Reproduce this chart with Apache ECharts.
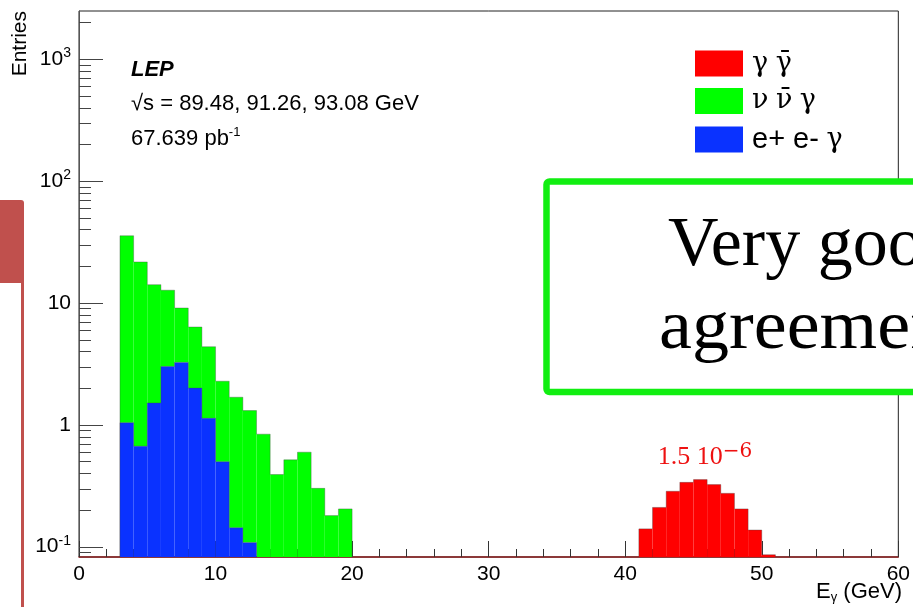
<!DOCTYPE html>
<html>
<head>
<meta charset="utf-8">
<script src="https://cdn.jsdelivr.net/npm/echarts@6/dist/echarts.min.js"></script>
<style>
  html, body { margin: 0; padding: 0; background: #ffffff; }
  #chart { width: 913px; height: 607px; }
</style>
</head>
<body>
<div id="chart"></div>
<script>
// Photon energy spectrum at LEP, 1 GeV bins, stacked by process (log scale)
const binWidth = 1;

// e+ e- -> e+ e- gamma (bottom of the stack)
const eeGammaLow = [3, 4, 5, 6, 7, 8, 9, 10, 11, 12];
const eeGammaCounts = [1.04, 0.667, 1.51, 3.01, 3.25, 2.0, 1.13, 0.497, 0.143, 0.108];

// e+ e- -> nu nubar gamma (stacked on top of e+ e- gamma)
const nunuGammaLow = [3, 4, 5, 6, 7, 8, 9, 10, 11, 12, 13, 14, 15, 16, 17, 18, 19];
const nunuGammaCounts = [34.5, 21.0, 12.6, 9.7, 5.83, 4.34, 3.24, 1.78, 1.54, 1.20,
                         0.838, 0.391, 0.516, 0.596, 0.301, 0.180, 0.204];

// e+ e- -> gamma gammabar (scaled by 1.5e-6)
const gammaGammaLow = [41, 42, 43, 44, 45, 46, 47, 48, 49, 50];
const gammaGammaCounts = [0.140, 0.210, 0.285, 0.337, 0.355, 0.323, 0.274, 0.204, 0.137, 0.0859];

// Axis ranges and labelled decades
const xMin = 0, xMax = 60, xStep = 10;
const yMin = 0.0823, yMax = 2480;
const yDecades = [0.1, 1, 10, 100, 1000];

const seriesNames = ['γ γ\u0304', 'ν ν\u0304 γ', 'e+ e- γ'];
const legendRich = {
  'γ γ\u0304': '{g|γ} {g|γ\u0304}',
  'ν ν\u0304 γ': '{g|ν} {g|ν\u0304} {g|γ}',
  'e+ e- γ': '{t|e+ e-} {g|γ}'
};
const seriesColors = ['#ff0000', '#00ff00', '#0a32ff'];

const FONT = '"Liberation Sans", Arial, Helvetica, sans-serif';
const SERIF = '"Liberation Serif", "Times New Roman", serif';
const GREEK = '"DejaVu Serif", "Liberation Serif", serif';

// Build step-histogram rows: [lo, hi, base, top, prevTop, isLast]
function buildLayer(lows, counts, baseLows, baseCounts) {
  const rows = [];
  let prevTop = null;
  lows.forEach((lo, i) => {
    const j = baseLows ? baseLows.indexOf(lo) : -1;
    const under = j >= 0 ? baseCounts[j] : 0;
    const base = under > 0 ? under : yMin;
    const top = under + counts[i];
    rows.push([lo, lo + binWidth, base, top, prevTop === null ? yMin : prevTop, i === lows.length - 1 ? 1 : 0]);
    prevTop = top;
  });
  return rows;
}

const eeRows = buildLayer(eeGammaLow, eeGammaCounts, null, null);
const nunuRows = buildLayer(nunuGammaLow, nunuGammaCounts, eeGammaLow, eeGammaCounts);
const ggRows = buildLayer(gammaGammaLow, gammaGammaCounts, null, null);

function renderBins(params, api) {
  const lo = api.value(0), hi = api.value(1);
  const base = api.value(2), top = api.value(3), prev = api.value(4), last = api.value(5);
  const a = api.coord([lo, top]);
  const b = api.coord([hi, base]);
  const cs = params.coordSys;
  const shape = echarts.graphic.clipRectByRect(
    { x: a[0], y: a[1], width: b[0] - a[0], height: b[1] - a[1] },
    { x: cs.x, y: cs.y, width: cs.width, height: cs.height }
  );
  const pPrev = api.coord([lo, prev]);
  const pts = [[a[0], Math.min(pPrev[1], cs.y + cs.height)], [a[0], a[1]], [b[0], a[1]]];
  if (last) pts.push([b[0], cs.y + cs.height]);
  return {
    type: 'group',
    children: [
      { type: 'rect', shape: shape, style: { fill: api.visual('color') } },
      { type: 'polyline', shape: { points: pts },
        style: { stroke: 'rgba(70,70,70,0.35)', lineWidth: 1, fill: null } }
    ]
  };
}

// Log-axis tick marks: long at decades, short at 2..9 x decade
const yTickRows = [];
for (let d = -2; d <= 3; d++) {
  for (let k = 1; k <= 9; k++) {
    const v = k * Math.pow(10, d);
    if (v >= yMin && v <= yMax) yTickRows.push([xMin, v, k === 1 ? 24 : 12]);
  }
}

function renderYTick(params, api) {
  const p = api.coord([api.value(0), api.value(1)]);
  const y = Math.round(p[1]) + 0.5;
  return {
    type: 'line',
    shape: { x1: p[0], y1: y, x2: p[0] + api.value(2), y2: y },
    style: { stroke: '#444444', lineWidth: 1 }
  };
}

function yLabel(v) {
  const e = Math.log10(v);
  const r = Math.round(e);
  if (Math.abs(e - r) > 1e-6 || !yDecades.some(d => Math.abs(Math.log10(d) - r) < 1e-9)) return '';
  if (r === 0) return '{b|1}';
  if (r === 1) return '{b|10}';
  return '{b|10}{s|' + r + '}';
}

const chart = echarts.init(document.getElementById('chart'), null, { renderer: 'canvas' });

chart.setOption({
  animation: false,
  backgroundColor: '#ffffff',
  grid: {
    left: 79, right: 13, top: 11, bottom: 50,
    show: true, borderColor: '#222222', borderWidth: 1, backgroundColor: 'transparent'
  },
  legend: {
    orient: 'vertical',
    left: 695, top: 50, padding: 0,
    itemWidth: 48, itemHeight: 26, itemGap: 10.5,
    icon: 'rect',
    selectedMode: false,
    data: seriesNames,
    formatter: name => legendRich[name],
    textStyle: {
      color: '#000000', padding: [0, 0, 0, 4],
      fontFamily: FONT, fontSize: 27,
      rich: {
        t: { fontFamily: FONT, fontSize: 29, color: '#000000' },
        g: { fontFamily: GREEK, fontSize: 27, color: '#000000' }
      }
    }
  },
  xAxis: {
    type: 'value',
    min: xMin, max: xMax, interval: xStep,
    axisLine: { show: true, onZero: false, lineStyle: { color: '#8b1c1c', width: 1.5 } },
    axisTick: { show: true, inside: true, length: 16, lineStyle: { color: '#333333' } },
    minorTick: { show: true, splitNumber: 5, length: 8, lineStyle: { color: '#333333' } },
    splitLine: { show: false },
    axisLabel: { fontFamily: FONT, fontSize: 21, color: '#000000', margin: 7 }
  },
  yAxis: {
    type: 'log',
    logBase: 10,
    min: yMin, max: yMax,
    axisLine: { show: true, lineStyle: { color: '#555555', width: 1 } },
    axisTick: { show: false },
    splitLine: { show: false },
    axisLabel: {
      margin: 8,
      showMinLabel: false, showMaxLabel: false,
      formatter: yLabel,
      rich: {
        b: { fontFamily: FONT, fontSize: 21, color: '#000000', lineHeight: 26 },
        s: { fontFamily: FONT, fontSize: 14, color: '#000000', verticalAlign: 'top', lineHeight: 14 }
      }
    }
  },
  series: [
    {
      name: seriesNames[0], type: 'custom', renderItem: renderBins,
      itemStyle: { color: seriesColors[0] },
      dimensions: ['lo', 'hi', 'base', 'top', 'prev', 'last'],
      encode: { x: [0, 1], y: [2, 3] },
      data: ggRows, silent: true, z: 3
    },
    {
      name: seriesNames[1], type: 'custom', renderItem: renderBins,
      itemStyle: { color: seriesColors[1] },
      dimensions: ['lo', 'hi', 'base', 'top', 'prev', 'last'],
      encode: { x: [0, 1], y: [2, 3] },
      data: nunuRows, silent: true, z: 3
    },
    {
      name: seriesNames[2], type: 'custom', renderItem: renderBins,
      itemStyle: { color: seriesColors[2] },
      dimensions: ['lo', 'hi', 'base', 'top', 'prev', 'last'],
      encode: { x: [0, 1], y: [2, 3] },
      data: eeRows, silent: true, z: 4
    },
    {
      name: 'yTicks', type: 'custom', renderItem: renderYTick,
      encode: { x: 0, y: 1 },
      data: yTickRows, silent: true, z: 5
    }
  ],
  graphic: [
    // axis titles
    {
      type: 'text', x: 20, y: 11, rotation: Math.PI / 2, z: 10,
      style: { text: 'Entries', font: '21px ' + FONT, fill: '#000000', align: 'right', verticalAlign: 'middle' }
    },
    {
      type: 'text', x: 902, y: 592, z: 10,
      style: {
        text: '{n|E}{u|γ}{n| (GeV)}', align: 'right', verticalAlign: 'middle',
        rich: {
          n: { fontFamily: FONT, fontSize: 22, fill: '#000000', lineHeight: 24 },
          u: { fontFamily: FONT, fontSize: 13, fill: '#000000', verticalAlign: 'bottom', lineHeight: 13 }
        }
      }
    },
    // dataset description
    {
      type: 'text', x: 131, y: 70, z: 10,
      style: { text: 'LEP', font: 'italic bold 22px ' + FONT, fill: '#000000', verticalAlign: 'middle' }
    },
    {
      type: 'text', x: 131, y: 104, z: 10,
      style: { text: '√s = 89.48, 91.26, 93.08 GeV', font: '22px ' + FONT, fill: '#000000', verticalAlign: 'middle' }
    },
    {
      type: 'text', x: 131, y: 139, z: 10,
      style: {
        text: '{n|67.639 pb}{s|-1}', verticalAlign: 'middle',
        rich: {
          n: { fontFamily: FONT, fontSize: 22, fill: '#000000', lineHeight: 26 },
          s: { fontFamily: FONT, fontSize: 13, fill: '#000000', verticalAlign: 'top', lineHeight: 13 }
        }
      }
    },
    // scale factor of the gamma gammabar sample
    {
      type: 'text', x: 705, y: 457, z: 10,
      style: {
        text: '{a|1.5 10}{s|−6}', align: 'center', verticalAlign: 'middle',
        rich: {
          a: { fontFamily: SERIF, fontSize: 26, fill: '#ee1111', lineHeight: 30 },
          s: { fontFamily: GREEK, fontSize: 20, fill: '#ee1111', verticalAlign: 'top', lineHeight: 20 }
        }
      }
    },
    // side bar
    {
      type: 'rect', z: 20,
      shape: { x: 0, y: 200, width: 24, height: 83, r: [0, 3, 0, 0] },
      style: { fill: '#c0504d' }
    },
    {
      type: 'rect', z: 20,
      shape: { x: 21, y: 283, width: 3, height: 324 },
      style: { fill: '#c0504d' }
    },
    // callout box
    {
      type: 'rect', z: 30,
      shape: { x: 546.5, y: 181.5, width: 420, height: 210.5, r: 3 },
      style: { fill: '#ffffff', stroke: '#11ee11', lineWidth: 6.5 }
    },
    {
      type: 'text', x: 668, y: 212, z: 31,
      style: { text: 'Very good', font: '70px ' + SERIF, fill: '#000000', verticalAlign: 'top' }
    },
    {
      type: 'text', x: 659, y: 295, z: 31, scaleX: 1.06,
      style: { text: 'agreement', font: '70px ' + SERIF, fill: '#000000', verticalAlign: 'top' }
    }
  ]
});
</script>
</body>
</html>
